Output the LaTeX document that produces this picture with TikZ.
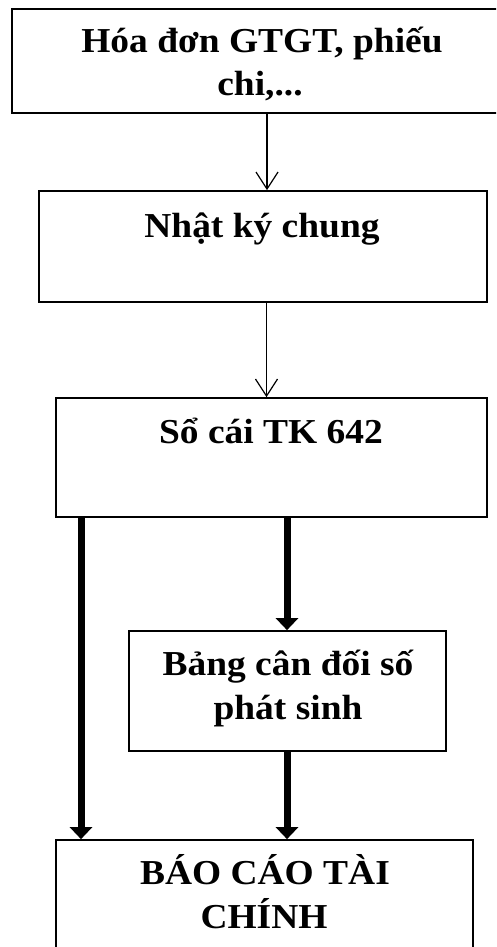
\documentclass[tikz,border=0pt]{standalone}
\usepackage{fontspec}
\setmainfont{Liberation Serif}
\usetikzlibrary{arrows.meta}
\begin{document}
\begin{tikzpicture}[x=1pt,y=-1pt,
  box/.style={draw, line width=1.7pt, inner sep=0pt},
  lbl/.style={font=\fontsize{35}{42}\selectfont\bfseries, anchor=base, inner sep=0pt, xscale=1.07},
  thinarrow/.style={line width=1.2pt, -{Straight Barb[length=17pt,width=22pt,line width=1.2pt]}},
  thickarrow/.style={line width=7pt, -{Triangle[length=12pt,width=22pt]}}]
\useasboundingbox (0,0) rectangle (496,947);
\clip (0,0) rectangle (496,947);
% boxes
\node[box, minimum width=490pt, minimum height=104pt] (b1) at (257,61) {};
\node[box, minimum width=448pt, minimum height=111pt] (b2) at (263,246.5) {};
\node[box, minimum width=431pt, minimum height=119pt] (b3) at (271.5,457.5) {};
\node[box, minimum width=317pt, minimum height=120pt] (b4) at (287.5,691) {};
\node[box, minimum width=417pt, minimum height=130pt] (b5) at (264.5,905) {};
% texts
\node[lbl] (t1a) at (262,53) {Hóa đơn GTGT, phiếu};
\node[lbl] (t1b) at (260,96) {chi,...};
\node[lbl] (t2) at (262,237) {Nhật ký chung};
\node[lbl] (t3) at (271,443) {Sổ cái TK 642};
\node[lbl] (t4a) at (288,675) {Bảng cân đối số};
\node[lbl] (t4b) at (288,719) {phát sinh};
\node[lbl] (t5a) at (265,884) {BÁO CÁO TÀI};
\node[lbl] (t5b) at (264,928) {CHÍNH};
% arrow x positions
\coordinate (xa) at (267,0);
\coordinate (xb) at (266.5,0);
\coordinate (xl) at (81,0);
\coordinate (xm) at (287,0);
% connectors
\draw[thinarrow] (xa |- b1.south) -- (xa |- b2.north);
\draw[thinarrow] (xb |- b2.south) -- (xb |- b3.north);
\draw[thickarrow] (xm |- b3.south) -- (xm |- b4.north);
\draw[thickarrow] (xl |- b3.south) -- (xl |- b5.north);
\draw[thickarrow] (xm |- b4.south) -- (xm |- b5.north);
\end{tikzpicture}
\end{document}
